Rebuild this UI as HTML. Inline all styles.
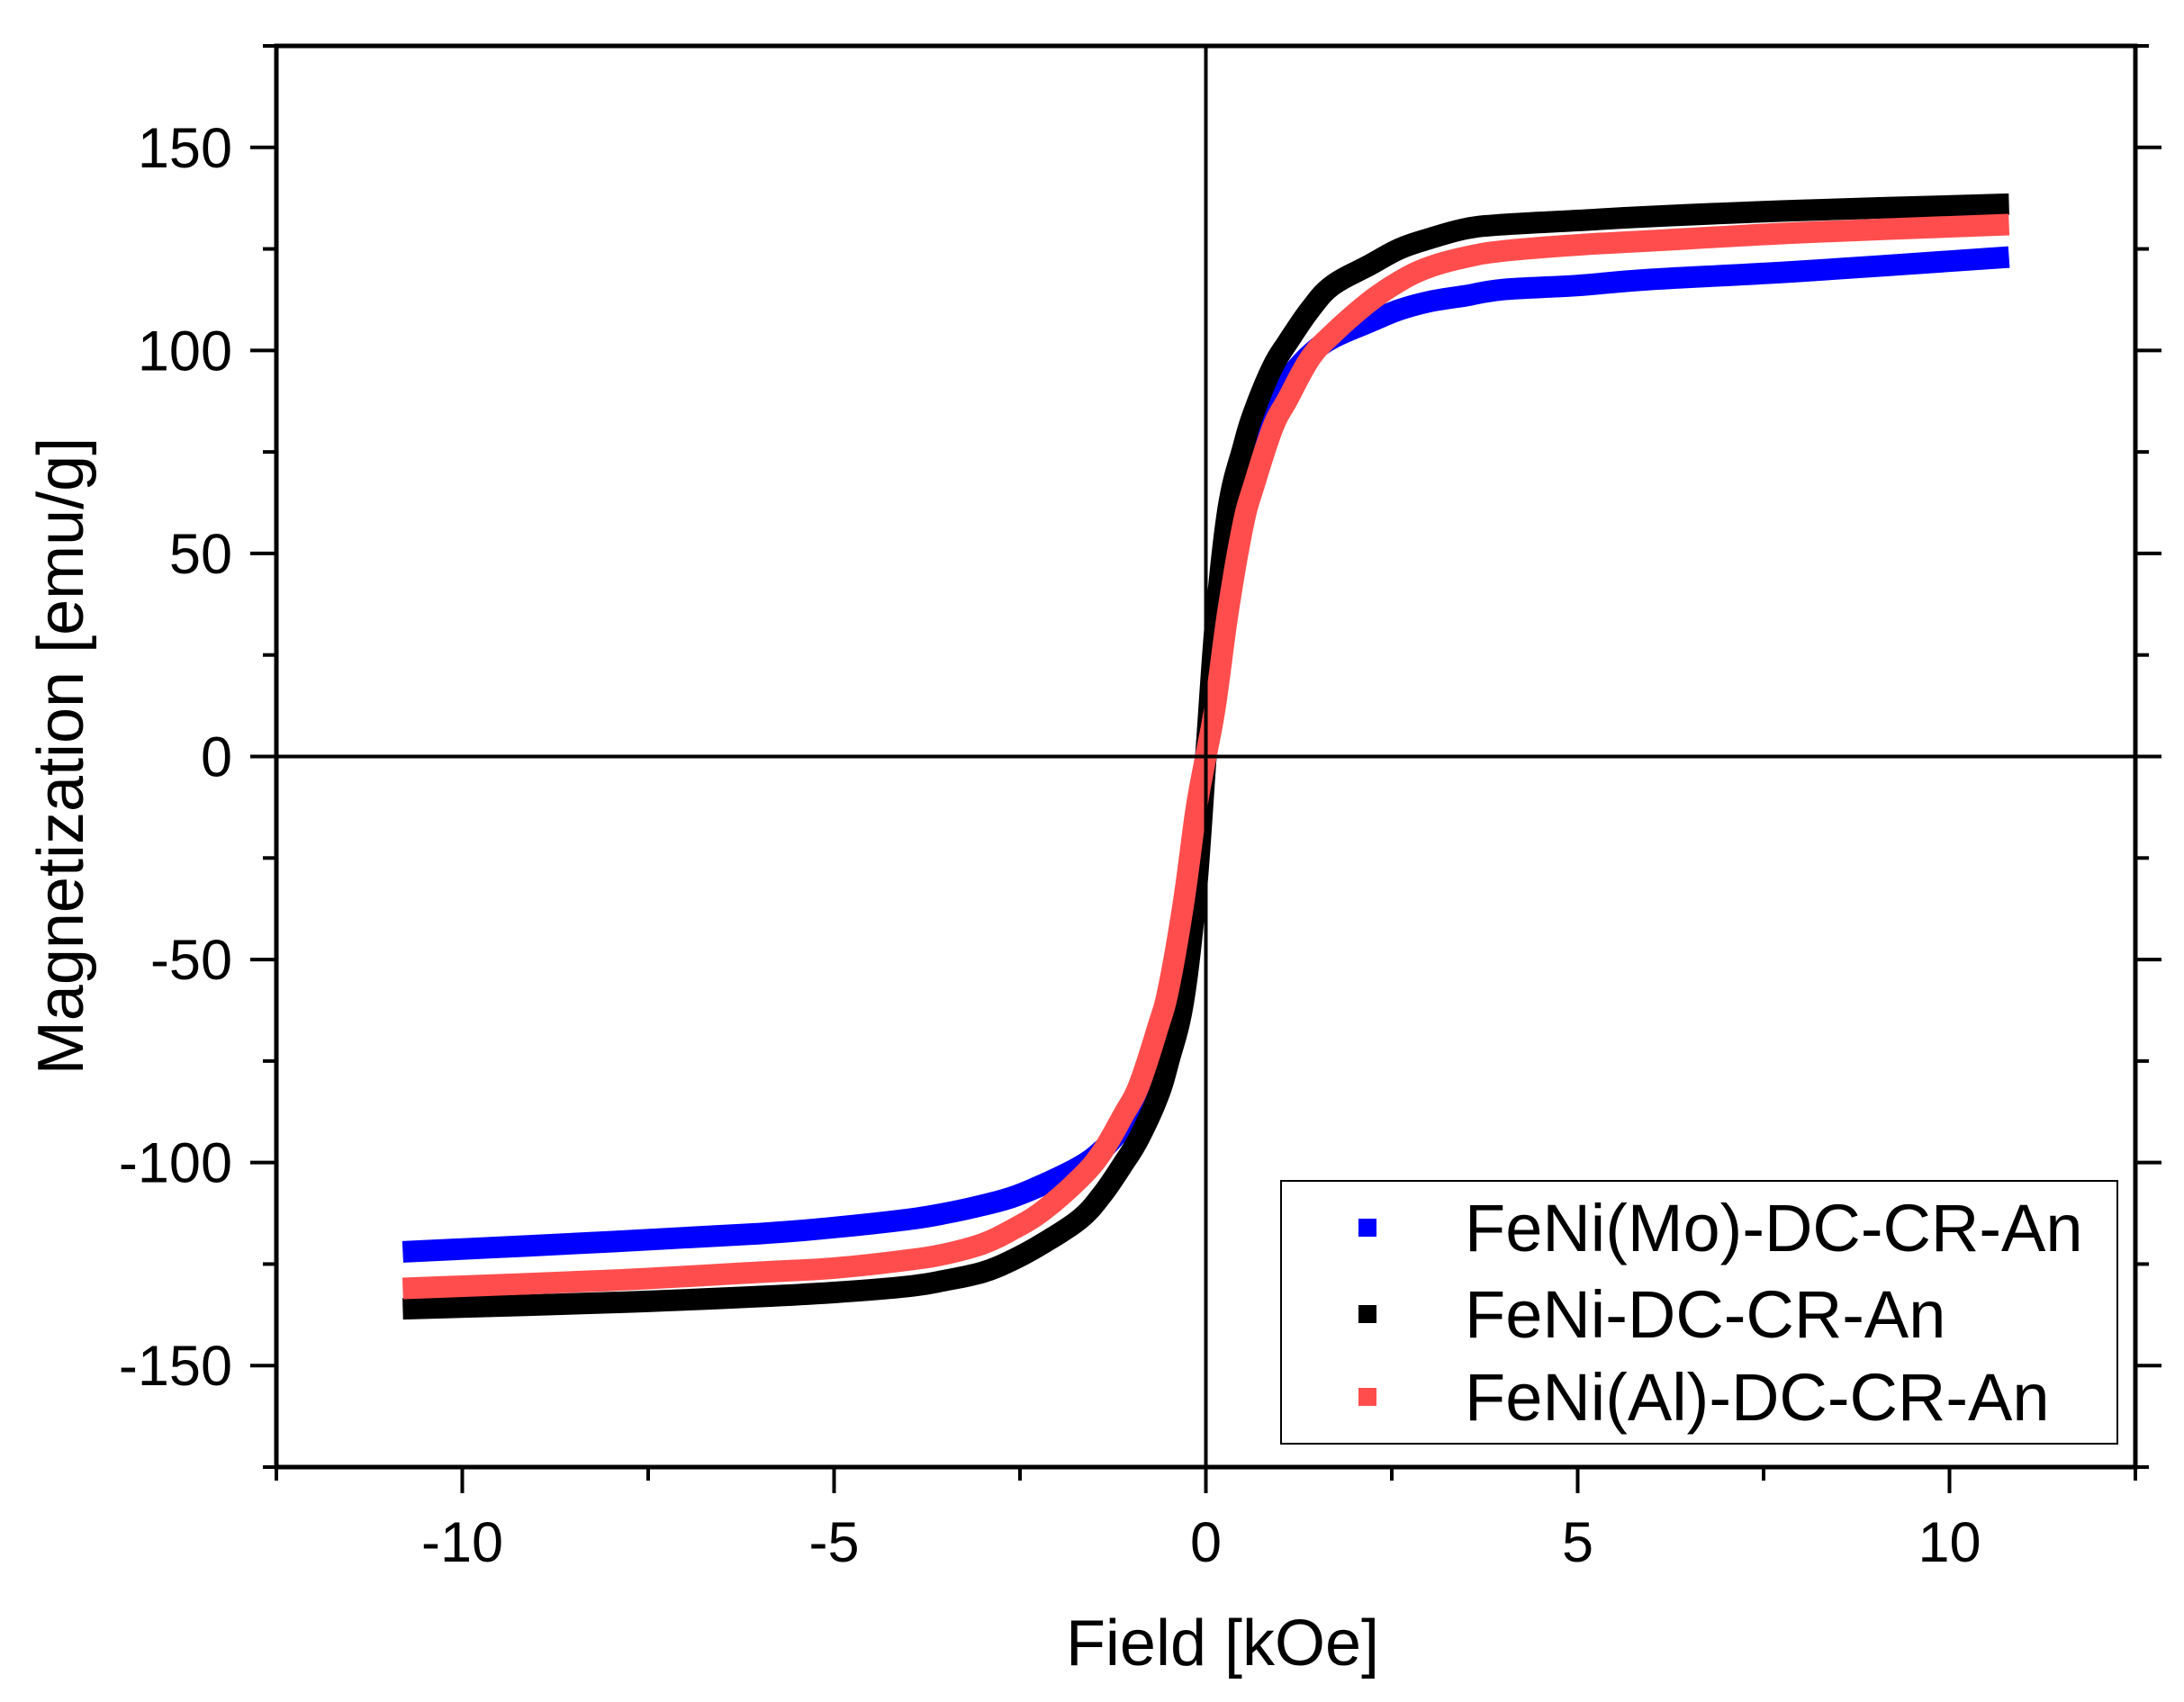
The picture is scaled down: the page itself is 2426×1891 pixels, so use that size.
<!DOCTYPE html>
<html><head><meta charset="utf-8"><style>
html,body{margin:0;padding:0;background:#fff;}
svg{display:block;font-family:"Liberation Sans",Arial,sans-serif;}
</style></head><body>
<svg id="chart" width="2426" height="1891" viewBox="0 0 2426 1891" xmlns="http://www.w3.org/2000/svg">
<g id="marks"></g>
<g id="axes"></g>
<text transform="translate(92,840) rotate(-90)" text-anchor="middle" font-size="72" fill="#000">Magnetization [emu/g]</text>
<text x="1358" y="1850" text-anchor="middle" font-size="72" fill="#000">Field [kOe]</text>
<g>
<rect x="1423" y="1312" width="929" height="292" fill="#fff" stroke="#000" stroke-width="2"/>
<rect x="1509" y="1354" width="20" height="20" fill="#0000ff"/>
<text x="1627" y="1390" font-size="74">FeNi(Mo)-DC-CR-An</text>
<rect x="1509" y="1450" width="20" height="20" fill="#000"/>
<text x="1627" y="1486" font-size="74">FeNi-DC-CR-An</text>
<rect x="1509" y="1542" width="20" height="20" fill="#ff4d4d"/>
<text x="1627" y="1578" font-size="74">FeNi(Al)-DC-CR-An</text>
</g>
</svg>
<script>
const fieldValues = [-10.8,-8,-6,-5,-4,-3.5,-3,-2.6,-2.2,-1.7,-1.4,-1.1,-0.9,-0.65,-0.5,-0.3,-0.13,0,0.13,0.3,0.5,0.65,0.9,1.1,1.4,1.7,2.2,2.6,3,3.5,4,5,6,8,10.8];
const blueValues = [-122,-119.5,-117.5,-116,-114,-112.5,-110.5,-108.5,-105.5,-101,-97,-91,-86,-78,-70,-53,-28,0,30,55,72,80,88,93,99,103,107,110,112,113.5,115,116,117.5,119.5,123];
const blackValues = [-136,-134.5,-133,-132,-130.5,-129,-127,-124,-120,-114,-108,-100,-94,-84,-75,-60,-33,0,33,61,76,85,96,102,110,116,121,125,127.5,130,131,132,133,134.5,136];
const redValues = [-131,-129,-127,-126,-124,-122.5,-120,-116.5,-112,-104,-97.5,-88,-81,-67,-57,-36,-13,0,13,36,57,67,81,88,98,104,112,117,120.5,123,124.5,126,127,129,131];
const xTicks = [-10,-5,0,5,10];
const yTicks = [-150,-100,-50,0,50,100,150];

const NS = "http://www.w3.org/2000/svg";
const L=307,R=2372,T=51,B=1630;
const xMin=-12.5,xMax=12.5,yMin=-175,yMax=175;
function sx(v){return L+(v-xMin)/(xMax-xMin)*(R-L);}
function sy(v){return B-(v-yMin)/(yMax-yMin)*(B-T);}
function mk(tag,attrs,parent){const e=document.createElementNS(NS,tag);for(const k in attrs)e.setAttribute(k,attrs[k]);parent.appendChild(e);return e;}
const marks=document.getElementById('marks');
const axes=document.getElementById('axes');

function smoothPath(vals){
  const P=fieldValues.map((x,i)=>[sx(x),sy(vals[i])]);
  let d='M'+P[0][0].toFixed(1)+','+P[0][1].toFixed(1);
  for(let i=0;i<P.length-1;i++){
    const p0=P[Math.max(0,i-1)],p1=P[i],p2=P[i+1],p3=P[Math.min(P.length-1,i+2)];
    const t=0.18;
    const c1=[p1[0]+(p2[0]-p0[0])*t,p1[1]+(p2[1]-p0[1])*t];
    const c2=[p2[0]-(p3[0]-p1[0])*t,p2[1]-(p3[1]-p1[1])*t];
    d+=' C'+c1[0].toFixed(1)+','+c1[1].toFixed(1)+' '+c2[0].toFixed(1)+','+c2[1].toFixed(1)+' '+p2[0].toFixed(1)+','+p2[1].toFixed(1);
  }
  return d;
}
function series(vals,color,name){
  const p=mk('path',{d:smoothPath(vals),fill:'none',stroke:color,'stroke-width':24,'stroke-linejoin':'round','stroke-linecap':'butt'},marks);
  
  
}
series(blueValues,'#0000ff','series-feni-mo');
series(blackValues,'#000000','series-feni');
series(redValues,'#ff4d4d','series-feni-al');

const zx=mk('line',{x1:sx(0),x2:sx(0),y1:T,y2:B,stroke:'#000','stroke-width':4},axes);


const zy=mk('line',{x1:L,x2:R+26,y1:sy(0),y2:sy(0),stroke:'#000','stroke-width':4},axes);



const fr=mk('rect',{x:L,y:T,width:R-L,height:B-T,fill:'none',stroke:'#000','stroke-width':5},axes);



for(let v=-12.5;v<=12.5001;v+=2.5){
  const major=Math.abs(v%5)<1e-6;
  const t=mk('line',{x1:sx(v),x2:sx(v),y1:B,y2:B+(major?29:15),stroke:'#000','stroke-width':4},axes);
  
  
}
xTicks.forEach(v=>{
  const t=mk('text',{x:sx(v),y:1735,'text-anchor':'middle','font-size':63},axes);
  t.textContent=v<0?'-'+Math.abs(v):String(v);
  
  
});
for(let v=-175;v<=175.001;v+=25){
  const major=Math.abs(v%50)<1e-6;
  const len=major?29:15;
  const a=mk('line',{x1:L-len,x2:L,y1:sy(v),y2:sy(v),stroke:'#000','stroke-width':4},axes);
  
  
  const b=mk('line',{x1:R,x2:R+len,y1:sy(v),y2:sy(v),stroke:'#000','stroke-width':4},axes);
  
  
}
yTicks.forEach(v=>{
  const t=mk('text',{x:258,y:sy(v)+22,'text-anchor':'end','font-size':63},axes);
  t.textContent=v<0?'-'+Math.abs(v):String(v);
  
  
});
</script>
</body></html>
